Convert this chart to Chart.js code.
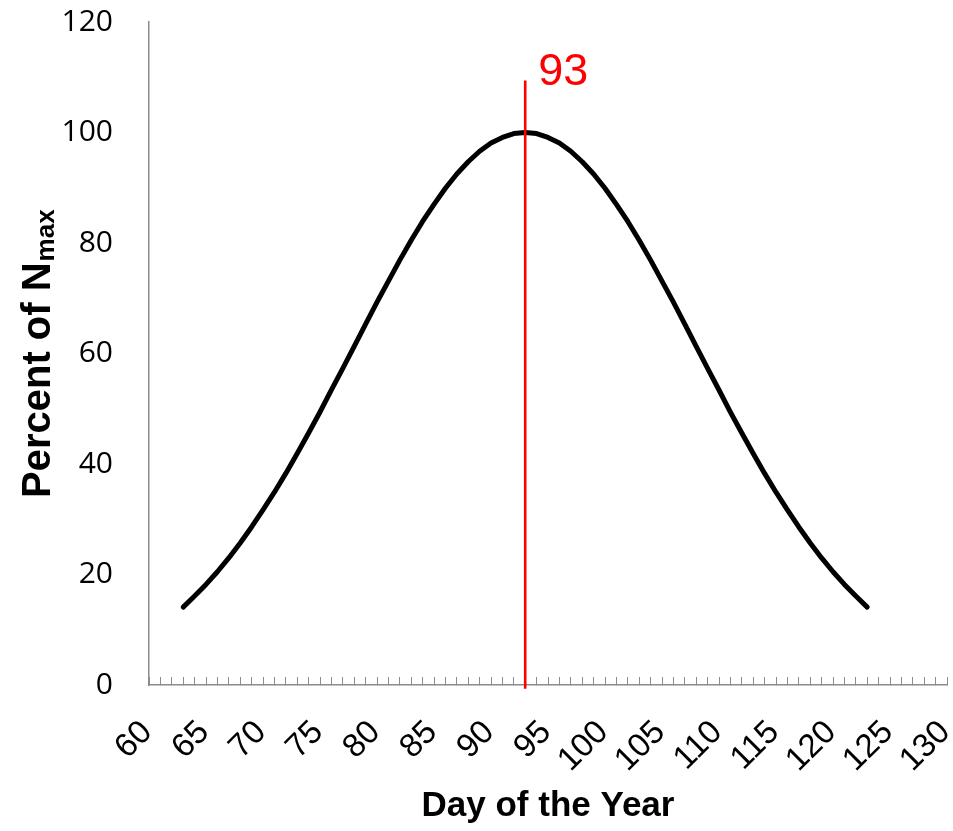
<!DOCTYPE html>
<html><head><meta charset="utf-8">
<script src="https://cdn.jsdelivr.net/npm/chart.js@4.4.0/dist/chart.umd.min.js"></script>
<style>html,body{margin:0;padding:0;background:#fff;overflow:hidden}#wrap{width:953px;height:831px;position:relative}</style>
</head><body><div id="wrap"><canvas id="c" width="953" height="831"></canvas></div>
<script>
// ---- data ----
const days = [63,64,65,66,67,68,69,70,71,72,73,74,75,76,77,78,79,80,81,82,83,84,85,86,87,88,89,90,91,92,93,
              94,95,96,97,98,99,100,101,102,103,104,105,106,107,108,109,110,111,112,113,114,115,116,117,118,119,120,121,122,123];
const percentNmax = [14.1,16.1,18.2,20.5,23.0,25.7,28.6,31.7,34.9,38.3,41.9,45.6,49.4,53.4,57.3,61.3,65.3,69.3,73.1,76.9,80.5,83.9,87.0,89.9,92.5,94.7,96.6,98.1,99.1,99.8,100,
                     99.8,99.1,98.1,96.6,94.7,92.5,89.9,87.0,83.9,80.5,76.9,73.1,69.3,65.3,61.3,57.3,53.4,49.4,45.6,41.9,38.3,34.9,31.7,28.6,25.7,23.0,20.5,18.2,16.1,14.1];
const markerDays = [93, 93];
const markerValues = [-0.7, 109.4];
const markerLabel = '93';
const xTickLabels = [60,65,70,75,80,85,90,95,100,105,110,115,120,125,130];
const yTickLabels = [0,20,40,60,80,100,120];
const xTitle = 'Day of the Year';
const yTitleMain = 'Percent of N';
const yTitleSub = 'max';

const curvePts = days.map((d,i)=>({x:d, y:percentNmax[i]}));
const markerPts = markerDays.map((d,i)=>({x:d, y:markerValues[i]}));

const AXIS_GRAY = '#8c8c8c';
const ARIAL = '"Liberation Sans", Arial, sans-serif';

function zeroPad(s) { s.paddingLeft = 0; s.paddingRight = 0; s.paddingTop = 0; s.paddingBottom = 0; }

const yTitlePlugin = {
  id: 'yTitleSub',
  afterDraw(chart) {
    const c = chart.ctx;
    c.save();
    c.translate(50, 498);
    c.rotate(-Math.PI/2);
    c.fillStyle = '#000';
    c.textAlign = 'left';
    c.textBaseline = 'alphabetic';
    c.font = 'bold 40px ' + ARIAL;
    c.fillText(yTitleMain, 0, 0);
    const w = c.measureText(yTitleMain).width;
    c.font = 'bold 26px ' + ARIAL;
    c.fillText(yTitleSub, w + 1, 4);
    c.restore();
  }
};

const markerLabelPlugin = {
  id: 'markerLabel',
  afterDatasetsDraw(chart) {
    const xs = chart.scales.x, ys = chart.scales.y;
    const c = chart.ctx;
    c.save();
    c.fillStyle = '#ff0000';
    c.font = '45px ' + ARIAL;
    c.textAlign = 'left';
    c.textBaseline = 'alphabetic';
    c.fillText(markerLabel, xs.getPixelForValue(markerDays[1]) + 13, ys.getPixelForValue(markerValues[1]) + 4);
    c.restore();
  }
};

new Chart(document.getElementById('c'), {
  type: 'scatter',
  data: {
    datasets: [
      { label: 'marker', data: markerPts, showLine: true, borderColor: '#ff0000', borderWidth: 2.6,
        pointRadius: 0, borderCapStyle: 'butt', clip: false, order: 0 },
      { label: 'curve', data: curvePts, showLine: true, borderColor: '#000000', borderWidth: 5,
        pointRadius: 0, tension: 0, borderCapStyle: 'round', borderJoinStyle: 'round', fill: false, order: 1 }
    ]
  },
  options: {
    responsive: false,
    animation: false,
    devicePixelRatio: 1,
    layout: { padding: { top: 22, right: 6, left: 0, bottom: 0 } },
    plugins: { legend: { display: false }, tooltip: { enabled: false } },
    scales: {
      x: {
        type: 'linear', min: 60, max: 130,
        ticks: {
          stepSize: 1, autoSkip: false, maxRotation: 45, minRotation: 45,
          padding: 36, labelOffset: -2,
          color: '#000', font: { family: ARIAL, size: 33 },
          callback: (v) => xTickLabels.includes(v) ? String(v) : ''
        },
        grid: { display: true, drawOnChartArea: false, drawTicks: true, tickLength: -8, color: AXIS_GRAY, lineWidth: 1 },
        border: { display: true, color: AXIS_GRAY, width: 1.5 },
        title: { display: true, text: xTitle, color: '#000', font: { family: ARIAL, size: 35, weight: 'bold' }, padding: { top: 0, bottom: 4 } },
        afterFit(s) { s.height = 146; zeroPad(s); }
      },
      y: {
        type: 'linear', min: 0, max: 120,
        afterBuildTicks(s) { s.ticks = yTickLabels.map(v => ({ value: v })); },
        ticks: { padding: 28, color: '#000', font: { family: '"Open Sans", sans-serif', size: 30 } },
        grid: { display: false },
        border: { display: true, color: AXIS_GRAY, width: 1.5 },
        afterFit(s) { s.width = 149; zeroPad(s); }
      }
    }
  },
  plugins: [yTitlePlugin, markerLabelPlugin]
});
</script>
</body></html>
